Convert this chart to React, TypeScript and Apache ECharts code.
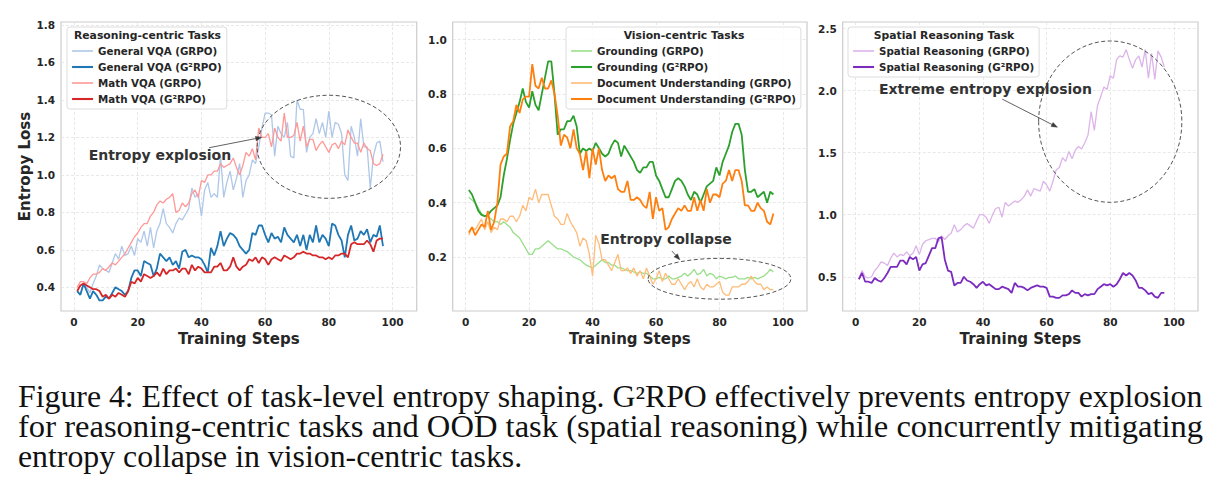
import { useEffect, useRef } from "react";
import * as echarts from "echarts";

// Training steps 1..97 shared by every curve
const steps = Array.from({ length: 97 }, (_, i) => i + 1);

// Reasoning-centric tasks
const generalVqaGrpo = [
  0.38, 0.36, 0.42, 0.40, 0.37, 0.42, 0.46, 0.52, 0.50, 0.49,
  0.48, 0.53, 0.58, 0.55, 0.62, 0.57, 0.58, 0.62, 0.57, 0.66,
  0.64, 0.70, 0.62, 0.72, 0.61, 0.70, 0.74, 0.82, 0.74, 0.72,
  0.69, 0.74, 0.77, 0.76, 0.79, 0.82, 0.93, 0.88, 0.90, 0.78,
  0.92, 0.96, 0.88, 0.90, 0.88, 1.10, 0.88, 0.96, 1.02, 0.92,
  0.98, 1.06, 0.88, 0.97, 1.00, 1.08, 1.06, 1.15, 1.25, 1.33,
  1.33, 1.32, 1.10, 1.26, 1.22, 1.20, 1.28, 1.10, 1.09, 1.40,
  1.35, 1.35, 1.12, 1.20, 1.22, 1.30, 1.22, 1.28, 1.20, 1.34,
  1.20, 1.28, 1.27, 1.22, 1.00, 0.97, 1.26, 1.20, 1.10, 1.30,
  1.15, 1.15, 0.93, 1.10, 1.17, 1.18, 1.07,
];
const generalVqaG2rpo = [
  0.38, 0.36, 0.42, 0.38, 0.34, 0.38, 0.36, 0.33, 0.33, 0.35,
  0.34, 0.37, 0.40, 0.39, 0.38, 0.36, 0.38, 0.45, 0.49, 0.49,
  0.46, 0.54, 0.53, 0.52, 0.46, 0.50, 0.58, 0.56, 0.54, 0.56,
  0.52, 0.54, 0.50, 0.59, 0.60, 0.56, 0.57, 0.56, 0.56, 0.55,
  0.52, 0.48, 0.61, 0.57, 0.62, 0.70, 0.62, 0.66, 0.69, 0.68,
  0.66, 0.62, 0.60, 0.58, 0.60, 0.69, 0.68, 0.73, 0.73, 0.68,
  0.64, 0.69, 0.66, 0.67, 0.64, 0.72, 0.68, 0.66, 0.64, 0.68,
  0.62, 0.68, 0.60, 0.68, 0.64, 0.73, 0.64, 0.68, 0.66, 0.62,
  0.74, 0.73, 0.68, 0.65, 0.56, 0.68, 0.73, 0.65, 0.66, 0.70,
  0.68, 0.71, 0.64, 0.68, 0.67, 0.73, 0.62,
];
const mathVqaGrpo = [
  0.40, 0.43, 0.43, 0.42, 0.45, 0.47, 0.47, 0.48, 0.50, 0.49,
  0.51, 0.53, 0.52, 0.54, 0.56, 0.58, 0.61, 0.64, 0.67, 0.69,
  0.72, 0.74, 0.74, 0.78, 0.80, 0.84, 0.86, 0.85, 0.87, 0.88,
  0.90, 0.80, 0.81, 0.85, 0.83, 0.85, 0.90, 0.92, 0.88, 0.97,
  0.96, 1.00, 1.00, 1.02, 1.02, 1.06, 1.04, 1.05, 1.06, 1.09,
  1.04, 1.00, 1.05, 1.12, 1.10, 1.14, 1.08, 1.25, 1.20, 1.20,
  1.22, 1.15, 1.25, 1.20, 1.18, 1.33, 1.20, 1.20, 1.21, 1.28,
  1.18, 1.26, 1.15, 1.19, 1.19, 1.13, 1.16, 1.18, 1.15, 1.12,
  1.16, 1.17, 1.14, 1.18, 1.16, 1.24, 1.20, 1.17, 1.17, 1.12,
  1.17, 1.14, 1.13, 1.06, 1.05, 1.06, 1.11,
];
const mathVqaG2rpo = [
  0.38, 0.41, 0.42, 0.41, 0.40, 0.39, 0.39, 0.38, 0.35, 0.36,
  0.34, 0.36, 0.35, 0.37, 0.36, 0.35, 0.38, 0.43, 0.42, 0.45,
  0.43, 0.47, 0.46, 0.45, 0.46, 0.48, 0.46, 0.50, 0.47, 0.49,
  0.49, 0.50, 0.48, 0.50, 0.50, 0.47, 0.52, 0.49, 0.51, 0.50,
  0.48, 0.48, 0.48, 0.51, 0.51, 0.53, 0.49, 0.49, 0.51, 0.56,
  0.51, 0.49, 0.51, 0.52, 0.55, 0.54, 0.56, 0.53, 0.56, 0.55,
  0.52, 0.55, 0.56, 0.55, 0.54, 0.57, 0.56, 0.55, 0.56, 0.58,
  0.58, 0.59, 0.58, 0.58, 0.57, 0.57, 0.56, 0.56, 0.55, 0.56,
  0.55, 0.57, 0.57, 0.58, 0.58, 0.56, 0.63, 0.64, 0.63, 0.63,
  0.63, 0.65, 0.63, 0.59, 0.65, 0.66, 0.66,
];

// Vision-centric tasks
const groundingGrpo = [
  0.42, 0.41, 0.40, 0.38, 0.36, 0.35, 0.35, 0.34, 0.33, 0.33,
  0.32, 0.33, 0.32, 0.31, 0.29, 0.28, 0.27, 0.25, 0.23, 0.21,
  0.21, 0.23, 0.23, 0.24, 0.25, 0.26, 0.25, 0.24, 0.23, 0.23,
  0.225, 0.22, 0.21, 0.20, 0.195, 0.19, 0.18, 0.17, 0.165, 0.16,
  0.17, 0.18, 0.19, 0.18, 0.18, 0.17, 0.17, 0.16, 0.16, 0.155,
  0.15, 0.15, 0.145, 0.14, 0.145, 0.14, 0.14, 0.13, 0.12, 0.12,
  0.125, 0.12, 0.12, 0.13, 0.12, 0.12, 0.125, 0.13, 0.14, 0.13,
  0.14, 0.155, 0.135, 0.14, 0.155, 0.13, 0.14, 0.135, 0.12, 0.13,
  0.125, 0.12, 0.125, 0.125, 0.13, 0.12, 0.12, 0.12, 0.125, 0.12,
  0.125, 0.12, 0.125, 0.13, 0.14, 0.155, 0.145,
];
const groundingG2rpo = [
  0.447, 0.43, 0.40, 0.37, 0.355, 0.35, 0.355, 0.37, 0.38, 0.39,
  0.42, 0.50, 0.56, 0.63, 0.69, 0.73, 0.77, 0.82, 0.77, 0.75,
  0.81, 0.76, 0.74, 0.80, 0.86, 0.92, 0.92, 0.80, 0.65, 0.67,
  0.67, 0.70, 0.70, 0.72, 0.68, 0.58, 0.60, 0.59, 0.60, 0.59,
  0.62, 0.60, 0.58, 0.57, 0.58, 0.61, 0.63, 0.62, 0.57, 0.61,
  0.59, 0.57, 0.55, 0.52, 0.51, 0.53, 0.53, 0.55, 0.55, 0.50,
  0.48, 0.45, 0.42, 0.42, 0.45, 0.48, 0.49, 0.48, 0.46, 0.43,
  0.41, 0.44, 0.43, 0.40, 0.43, 0.46, 0.47, 0.48, 0.53, 0.50,
  0.55, 0.58, 0.61, 0.66, 0.69, 0.69, 0.65, 0.52, 0.44, 0.44,
  0.45, 0.42, 0.43, 0.44, 0.40, 0.44, 0.43,
];
const docUnderstandingGrpo = [
  0.28, 0.31, 0.30, 0.32, 0.34, 0.30, 0.33, 0.29, 0.31, 0.30,
  0.34, 0.34, 0.33, 0.35, 0.35, 0.33, 0.35, 0.39, 0.37, 0.42,
  0.41, 0.45, 0.40, 0.43, 0.43, 0.43, 0.39, 0.35, 0.34, 0.32,
  0.32, 0.36, 0.33, 0.31, 0.29, 0.24, 0.27, 0.26, 0.21, 0.13,
  0.28, 0.25, 0.19, 0.19, 0.17, 0.15, 0.18, 0.21, 0.15, 0.15,
  0.16, 0.14, 0.16, 0.13, 0.15, 0.12, 0.16, 0.13, 0.10, 0.12,
  0.15, 0.11, 0.14, 0.12, 0.10, 0.10, 0.12, 0.10, 0.08, 0.10,
  0.11, 0.09, 0.12, 0.09, 0.08, 0.10, 0.09, 0.09, 0.10, 0.11,
  0.07, 0.06, 0.06, 0.09, 0.09, 0.09, 0.10, 0.10, 0.11, 0.13,
  0.11, 0.10, 0.10, 0.08, 0.09, 0.08, 0.08,
];
const docUnderstandingG2rpo = [
  0.29, 0.31, 0.28, 0.30, 0.32, 0.31, 0.37, 0.30, 0.33, 0.40,
  0.54, 0.57, 0.58, 0.68, 0.70, 0.76, 0.73, 0.78, 0.79, 0.79,
  0.91, 0.83, 0.82, 0.86, 0.82, 0.82, 0.85, 0.80, 0.72, 0.61,
  0.65, 0.64, 0.60, 0.67, 0.60, 0.58, 0.52, 0.59, 0.49, 0.60,
  0.54, 0.60, 0.52, 0.48, 0.50, 0.49, 0.50, 0.45, 0.44, 0.44,
  0.48, 0.41, 0.41, 0.42, 0.41, 0.39, 0.38, 0.44, 0.34, 0.42,
  0.37, 0.38, 0.30, 0.31, 0.34, 0.36, 0.38, 0.37, 0.39, 0.37,
  0.37, 0.42, 0.37, 0.41, 0.37, 0.45, 0.40, 0.43, 0.43, 0.42,
  0.47, 0.48, 0.52, 0.48, 0.52, 0.52, 0.48, 0.39, 0.39, 0.37,
  0.37, 0.40, 0.38, 0.37, 0.33, 0.32, 0.36,
];

// Spatial reasoning (OOD) task
const spatialGrpo = [
  0.48, 0.55, 0.50, 0.49, 0.50, 0.55, 0.58, 0.62, 0.61, 0.59,
  0.65, 0.69, 0.66, 0.68, 0.67, 0.70, 0.67, 0.69, 0.75, 0.68,
  0.76, 0.79, 0.80, 0.81, 0.81, 0.78, 0.83, 0.80, 0.83, 0.85,
  0.92, 0.86, 0.88, 0.91, 0.93, 0.91, 0.89, 0.95, 1.00, 1.00,
  0.98, 0.93, 1.00, 1.05, 1.06, 0.98, 1.10, 1.07, 1.09, 1.11,
  1.10, 1.12, 1.15, 1.20, 1.15, 1.21, 1.20, 1.19, 1.27, 1.24,
  1.19, 1.27, 1.36, 1.38, 1.46, 1.43, 1.51, 1.45, 1.52, 1.55,
  1.53, 1.58, 1.64, 1.83, 1.68, 1.88, 1.95, 2.03, 2.01, 2.12,
  2.10, 2.25, 2.28, 2.27, 2.33, 2.25, 2.18, 2.25, 2.28, 2.19,
  2.33, 2.10, 2.30, 2.09, 2.32, 2.27, 2.19,
];
const spatialG2rpo = [
  0.48, 0.53, 0.46, 0.46, 0.45, 0.49, 0.47, 0.46, 0.49, 0.53,
  0.58, 0.58, 0.58, 0.63, 0.63, 0.60, 0.66, 0.64, 0.66, 0.55,
  0.60, 0.61, 0.67, 0.73, 0.73, 0.81, 0.82, 0.64, 0.55, 0.54,
  0.43, 0.45, 0.45, 0.50, 0.47, 0.46, 0.44, 0.41, 0.44, 0.46,
  0.43, 0.44, 0.42, 0.40, 0.40, 0.42, 0.41, 0.40, 0.37, 0.45,
  0.42, 0.42, 0.41, 0.39, 0.41, 0.42, 0.43, 0.42, 0.42, 0.41,
  0.34, 0.34, 0.33, 0.33, 0.35, 0.35, 0.36, 0.39, 0.37, 0.37,
  0.34, 0.36, 0.35, 0.36, 0.36, 0.40, 0.42, 0.44, 0.43, 0.44,
  0.42, 0.44, 0.48, 0.53, 0.51, 0.53, 0.51, 0.47, 0.41, 0.41,
  0.39, 0.36, 0.37, 0.34, 0.33, 0.37, 0.37,
];

// Tick labels
const xTicks = [0, 20, 40, 60, 80, 100];
const yTicksReasoning = [0.4, 0.6, 0.8, 1.0, 1.2, 1.4, 1.6, 1.8];
const yTicksVision = [0.2, 0.4, 0.6, 0.8, 1.0];
const yTicksSpatial = [0.5, 1.0, 1.5, 2.0, 2.5];

const legendTitles = ["Reasoning-centric Tasks", "Vision-centric Tasks", "Spatial Reasoning Task"];

const captionLines = [
  "Figure 4: Effect of task-level entropy shaping. G²RPO effectively prevents entropy explosion",
  "for reasoning-centric tasks and OOD task (spatial reasoning) while concurrently mitigating",
  "entropy collapse in vision-centric tasks.",
];

const SANS = "DejaVu Sans";
const INK = "#262626";

type SeriesDef = { name: string; values: number[]; color: string; width: number; panel: number };

const seriesDefs: SeriesDef[] = [
  { name: "General VQA (GRPO)", values: generalVqaGrpo, color: "#aec7e8", width: 1.3, panel: 0 },
  { name: "General VQA (G²RPO)", values: generalVqaG2rpo, color: "#1f77b4", width: 1.8, panel: 0 },
  { name: "Math VQA (GRPO)", values: mathVqaGrpo, color: "#ff9896", width: 1.3, panel: 0 },
  { name: "Math VQA (G²RPO)", values: mathVqaG2rpo, color: "#d62728", width: 1.8, panel: 0 },
  { name: "Grounding (GRPO)", values: groundingGrpo, color: "#98df8a", width: 1.3, panel: 1 },
  { name: "Grounding (G²RPO)", values: groundingG2rpo, color: "#2ca02c", width: 1.8, panel: 1 },
  { name: "Document Understanding (GRPO)", values: docUnderstandingGrpo, color: "#ffbb78", width: 1.3, panel: 1 },
  { name: "Document Understanding (G²RPO)", values: docUnderstandingG2rpo, color: "#ff7f0e", width: 1.8, panel: 1 },
  { name: "Spatial Reasoning (GRPO)", values: spatialGrpo, color: "#dcb4ea", width: 1.3, panel: 2 },
  { name: "Spatial Reasoning (G²RPO)", values: spatialG2rpo, color: "#7b2cbf", width: 1.8, panel: 2 },
];

// Layout of the three panels
const panels = [
  { left: 61, width: 355.7, yMin: 0.2736, yMax: 1.816, yTicks: yTicksReasoning, splitNumber: 8, yName: "Entropy Loss",
    legend: { left: 67, titleX: 147.5 } },
  { left: 452.7, width: 354.3, yMin: 0.0015, yMax: 1.0647, yTicks: yTicksVision, splitNumber: 6, yName: "",
    legend: { left: 566, titleX: 684 } },
  { left: 842.7, width: 355.3, yMin: 0.224, yMax: 2.553, yTicks: yTicksSpatial, splitNumber: 5, yName: "",
    legend: { left: 848, titleX: 944 } },
];
const GRID_TOP = 22;
const GRID_HEIGHT = 289;
const X_MIN = -4.08;
const X_MAX = 107.58;

// Annotations placed in data coordinates of each panel
const annotations = [
  { panel: 0, text: "Entropy explosion", textAt: [4.6, 1.106], from: [42.4, 1.145], to: [58.9, 1.2],
    ellipse: { cx: 80, cy: 1.15, w: 45, h: 0.55 } },
  { panel: 1, text: "Entropy collapse", textAt: [42.4, 0.266], from: [65, 0.222], to: [67.5, 0.19],
    ellipse: { cx: 80, cy: 0.12, w: 45, h: 0.15 } },
  { panel: 2, text: "Extreme entropy explosion", textAt: [7.3, 2.011], from: [46.1, 1.931], to: [63.4, 1.705],
    ellipse: { cx: 80, cy: 1.75, w: 45, h: 1.3 } },
];

const tickText = { fontFamily: SANS, fontWeight: "bold" as const, fontSize: 10.5, color: INK };
const nameText = { fontFamily: SANS, fontWeight: "bold" as const, fontSize: 15, color: INK };

function buildOption() {
  return {
    animation: false,
    backgroundColor: "#ffffff",
    grid: panels.map((p) => ({
      left: p.left,
      top: GRID_TOP,
      width: p.width,
      height: GRID_HEIGHT,
      show: true,
      backgroundColor: "#ffffff",
      borderColor: "#cccccc",
      borderWidth: 1.2,
      containLabel: false,
      outerBoundsMode: "none",
    })),
    xAxis: panels.map((_, i) => ({
      type: "value",
      gridIndex: i,
      min: X_MIN,
      max: X_MAX,
      splitNumber: 5,
      axisLine: { show: false },
      axisTick: { show: false, customValues: xTicks },
      axisLabel: { ...tickText, margin: 5, customValues: xTicks },
      splitLine: { show: true, lineStyle: { color: "#e2e2e2", width: 0.8, type: [3, 2] } },
      name: "Training Steps",
      nameLocation: "middle",
      nameGap: 16,
      nameTextStyle: nameText,
    })),
    yAxis: panels.map((p, i) => ({
      type: "value",
      gridIndex: i,
      min: p.yMin,
      max: p.yMax,
      splitNumber: p.splitNumber,
      axisLine: { show: false },
      axisTick: { show: false, customValues: p.yTicks },
      axisLabel: { ...tickText, margin: 6, customValues: p.yTicks, formatter: (v: number) => v.toFixed(1) },
      splitLine: { show: true, lineStyle: { color: "#e2e2e2", width: 0.8, type: [3, 2] } },
      name: p.yName,
      nameLocation: "middle",
      nameGap: 27,
      nameTextStyle: nameText,
    })),
    legend: panels.map((p, i) => ({
      orient: "vertical",
      left: p.legend.left,
      top: 27,
      padding: [17, 5, 3, 4],
      itemGap: 2,
      itemWidth: 21,
      itemHeight: 14,
      backgroundColor: "rgba(255,255,255,0.85)",
      borderColor: "#dddddd",
      borderWidth: 1,
      borderRadius: 3,
      selectedMode: false,
      // line-only keys: the point marker of the key is hidden
      itemStyle: { opacity: 0 },
      textStyle: { fontFamily: SANS, fontWeight: "bold", fontSize: 10.3, color: INK, lineHeight: 14 },
      data: seriesDefs
        .filter((s) => s.panel === i)
        .map((s) => ({ name: s.name, lineStyle: { width: s.width + 0.3, color: s.color } })),
    })),
    series: seriesDefs.map((s) => ({
      type: "line",
      name: s.name,
      xAxisIndex: s.panel,
      yAxisIndex: s.panel,
      data: s.values.map((v, k) => [steps[k], v]),
      symbol: "none",
      showSymbol: false,
      silent: true,
      lineStyle: { color: s.color, width: s.width },
      itemStyle: { color: s.color },
      emphasis: { disabled: true },
    })),
  };
}

function buildGraphics(chart: echarts.ECharts) {
  const els: any[] = [];
  const ANNOT = "#3a3a3a";

  // legend titles
  panels.forEach((p, i) => {
    els.push({
      type: "text",
      z: 100,
      x: p.legend.titleX,
      y: 35,
      style: {
        text: legendTitles[i],
        fontFamily: SANS,
        fontWeight: "bold",
        fontSize: 10.8,
        fill: INK,
        align: "center",
        verticalAlign: "middle",
      },
    });
  });

  // annotations: dashed ellipse, label and arrow
  annotations.forEach((a) => {
    const px = (pt: number[]) => chart.convertToPixel({ gridIndex: a.panel }, pt) as number[];
    const c = px([a.ellipse.cx, a.ellipse.cy]);
    const e = px([a.ellipse.cx + a.ellipse.w / 2, a.ellipse.cy + a.ellipse.h / 2]);
    els.push({
      type: "ellipse",
      z: 50,
      shape: { cx: c[0], cy: c[1], rx: Math.abs(e[0] - c[0]), ry: Math.abs(c[1] - e[1]) },
      style: { fill: "none", stroke: "#555555", lineWidth: 1, lineDash: [4, 2.5] },
    });
    const t = px(a.textAt);
    els.push({
      type: "text",
      z: 60,
      x: t[0],
      y: t[1],
      style: {
        text: a.text,
        fontFamily: SANS,
        fontWeight: "bold",
        fontSize: 14,
        fill: "#333333",
        align: "left",
        verticalAlign: "middle",
      },
    });
    const s = px(a.from);
    const d = px(a.to);
    const dx = d[0] - s[0];
    const dy = d[1] - s[1];
    const len = Math.hypot(dx, dy);
    const ux = dx / len;
    const uy = dy / len;
    const headL = 6;
    const headW = 2.2;
    const bx = d[0] - ux * headL;
    const by = d[1] - uy * headL;
    els.push({
      type: "line",
      z: 60,
      shape: { x1: s[0], y1: s[1], x2: bx, y2: by },
      style: { stroke: ANNOT, lineWidth: 0.8 },
    });
    els.push({
      type: "polygon",
      z: 60,
      shape: {
        points: [
          [d[0], d[1]],
          [bx - uy * headW, by + ux * headW],
          [bx + uy * headW, by - ux * headW],
        ],
      },
      style: { fill: ANNOT, stroke: ANNOT, lineWidth: 0.5 },
    });
  });

  // caption below the panels, set in a tall serif squeezed to the column width
  const CAPTION_FONT = 31;
  const CAPTION_FAMILY = "Liberation Serif";
  const ctx = document.createElement("canvas").getContext("2d");
  let widths = captionLines.map((l) => l.length * CAPTION_FONT * 0.45);
  if (ctx) {
    ctx.font = `${CAPTION_FONT}px "${CAPTION_FAMILY}"`;
    widths = captionLines.map((l) => ctx.measureText(l).width);
  }
  const fullWidth = 1185;
  const baseScale = fullWidth / widths[0];
  captionLines.forEach((line, i) => {
    const sx = i < captionLines.length - 1 ? fullWidth / widths[i] : baseScale;
    els.push({
      type: "text",
      z: 10,
      x: 18,
      y: 397 + i * 30,
      scaleX: sx,
      style: {
        text: line,
        fontFamily: CAPTION_FAMILY,
        fontSize: CAPTION_FONT,
        fill: "#111111",
        align: "left",
        verticalAlign: "middle",
      },
    });
  });

  return els;
}

export default function App() {
  const ref = useRef<HTMLDivElement>(null);
  useEffect(() => {
    if (!ref.current) return;
    const chart = echarts.init(ref.current, null, { renderer: "svg" });
    chart.setOption(buildOption() as any);
    chart.setOption({ graphic: buildGraphics(chart) } as any);
    return () => chart.dispose();
  }, []);
  return (
    <div
      ref={ref}
      style={{ position: "absolute", left: 0, top: 0, width: 1218, height: 495, background: "#ffffff" }}
    />
  );
}
